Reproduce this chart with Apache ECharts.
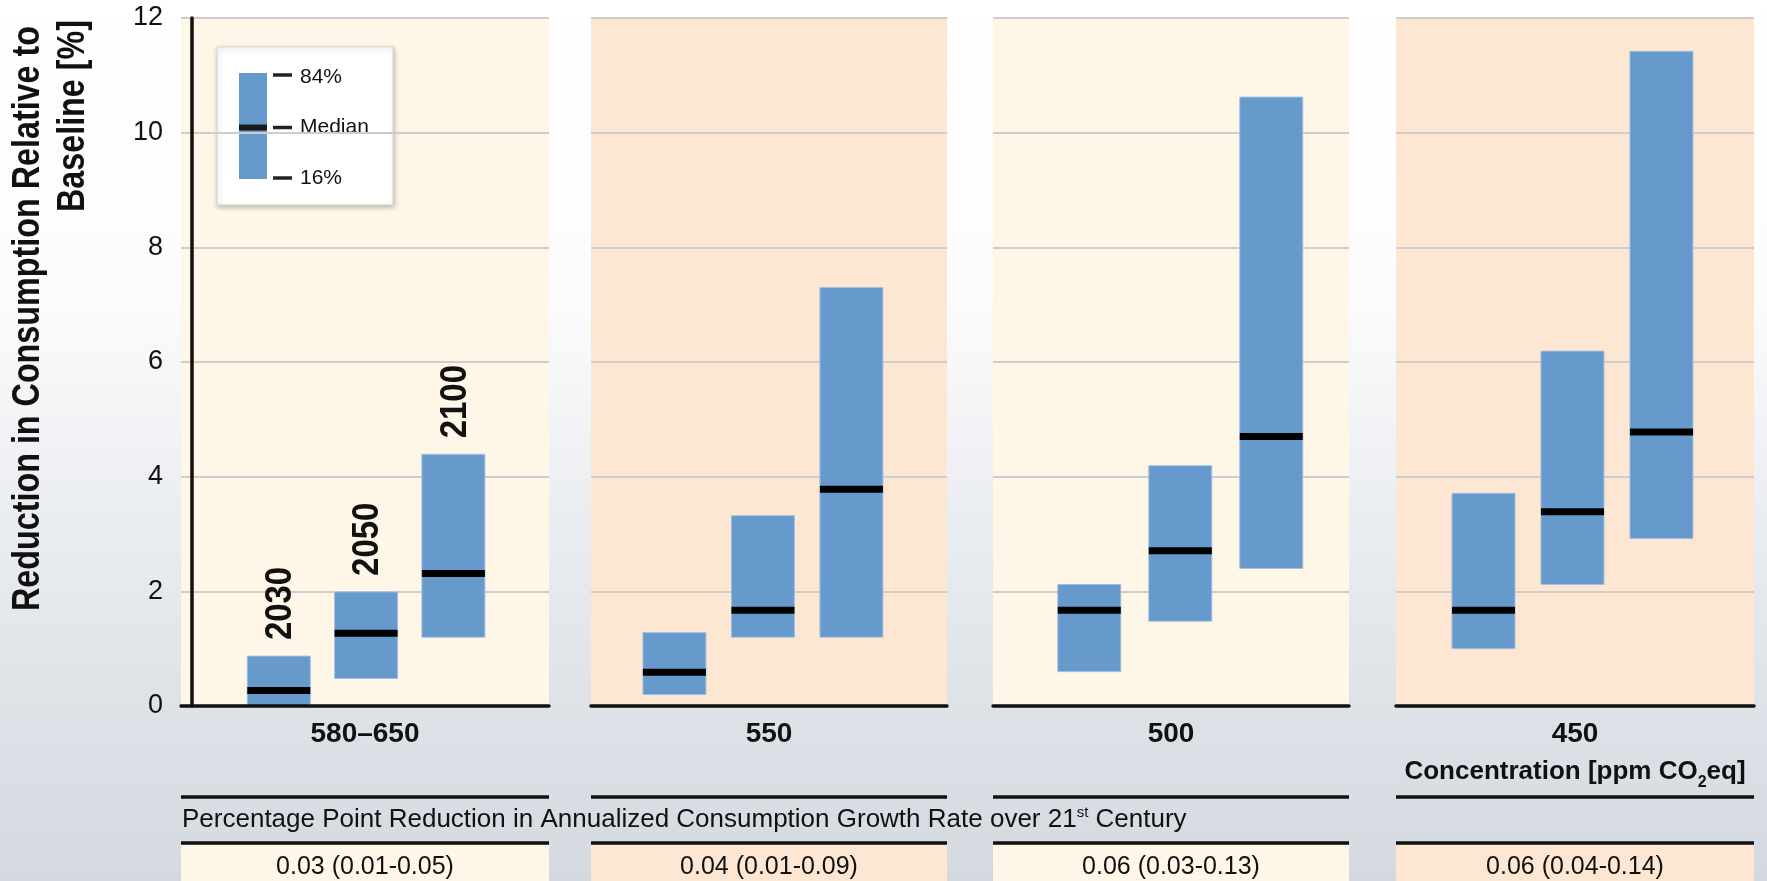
<!DOCTYPE html>
<html>
<head>
<meta charset="utf-8">
<script src="https://cdn.jsdelivr.net/npm/echarts@6/dist/echarts.min.js"></script>
<style>
  html, body { margin: 0; padding: 0; width: 1767px; height: 881px; overflow: hidden; }
  #chart { width: 1767px; height: 881px; }
</style>
</head>
<body>
<div id="chart"></div>
<script>
// Concentration categories (ppm CO2eq) and the three reporting years
const concentrations = ['580–650', '550', '500', '450'];
const years = ['2030', '2050', '2100'];

// Reduction in consumption relative to baseline [%], per category, per year
const p16 = [
  [0.0, 0.48, 1.2],
  [0.2, 1.2, 1.2],
  [0.6, 1.48, 2.4],
  [1.0, 2.12, 2.92]
];
const medians = [
  [0.27, 1.27, 2.31],
  [0.59, 1.67, 3.78],
  [1.67, 2.71, 4.7],
  [1.67, 3.39, 4.78]
];
const p84 = [
  [0.87, 1.99, 4.39],
  [1.28, 3.32, 7.3],
  [2.12, 4.19, 10.62],
  [3.71, 6.19, 11.42]
];

// Percentage point reduction in annualized consumption growth rate
const growthRates = ['0.03 (0.01-0.05)', '0.04 (0.01-0.09)', '0.06 (0.03-0.13)', '0.06 (0.04-0.14)'];

// Value axis
const yMin = 0, yMax = 12, yStep = 2;

// ---- layout & styles ----
const FONT = '"Liberation Sans", Arial, Helvetica, sans-serif';
const CREAM = '#fef6e7';
const PEACH = '#fde7d2';
const BAR_BLUE = '#6699cc';
const panels = [
  { left: 181, width: 368, xRange: [-0.12, 4.095], bg: CREAM },
  { left: 591, width: 356, xRange: [0.057, 4.08], bg: PEACH },
  { left: 993, width: 356, xRange: [-0.058, 3.854], bg: CREAM },
  { left: 1396, width: 358, xRange: [0.017, 4.04], bg: PEACH }
];
const PLOT_TOP = 18, PLOT_H = 688;
const BAR_W = 63;
const RULE1_Y = 797, RULE2_Y = 843;

const chart = echarts.init(document.getElementById('chart'), null, { renderer: 'canvas' });

const grids = [], xAxes = [], yAxes = [], series = [];

panels.forEach((p, i) => {
  grids.push({
    left: p.left, top: PLOT_TOP, width: p.width, height: PLOT_H,
    show: true, backgroundColor: p.bg, borderWidth: 0,
    outerBoundsMode: 'none'
  });

  const isLast = i === panels.length - 1;
  xAxes.push({
    gridIndex: i, type: 'value', min: p.xRange[0], max: p.xRange[1],
    z: 5,
    axisLine: { show: true, onZero: false, lineStyle: { color: '#111', width: 3.5 } },
    axisTick: { show: false }, axisLabel: { show: false }, splitLine: { show: false },
    name: isLast
      ? '{b|' + concentrations[i] + '}\n{c|Concentration [ppm CO}{sub|2}{c|eq]}'
      : '{b|' + concentrations[i] + '}',
    nameLocation: 'middle', nameGap: 9,
    nameTextStyle: {
      rich: {
        b: { fontFamily: FONT, fontWeight: 'bold', fontSize: 28, color: '#111', lineHeight: 38 },
        c: { fontFamily: FONT, fontWeight: 'bold', fontSize: 26, color: '#111', lineHeight: 38 },
        sub: { fontFamily: FONT, fontWeight: 'bold', fontSize: 16, color: '#111', lineHeight: 16, verticalAlign: 'bottom' }
      }
    }
  });

  yAxes.push({
    gridIndex: i, type: 'value', min: yMin, max: yMax, interval: yStep,
    axisLine: { show: i === 0, lineStyle: { color: '#111', width: 3.5 } },
    axisTick: { show: false },
    axisLabel: {
      show: i === 0, margin: 18, fontFamily: FONT, fontSize: 27, color: '#111'
    },
    splitLine: { show: true, lineStyle: { color: '#cdcdcd', width: 2 } }
  });

  series.push({
    type: 'custom',
    xAxisIndex: i, yAxisIndex: i,
    data: years.map((y, k) => [k + 1, p16[i][k], medians[i][k], p84[i][k]]),
    renderItem: (params, api) => {
      const x = api.value(0);
      const lo = api.coord([x, api.value(1)]);
      const med = api.coord([x, api.value(2)]);
      const hi = api.coord([x, api.value(3)]);
      const children = [
        {
          type: 'rect',
          shape: { x: lo[0] - BAR_W / 2, y: hi[1], width: BAR_W, height: lo[1] - hi[1] },
          style: { fill: BAR_BLUE, stroke: '#a3bfe0', lineWidth: 1 }
        },
        {
          type: 'rect',
          shape: { x: med[0] - BAR_W / 2, y: med[1] - 3.5, width: BAR_W, height: 7 },
          style: { fill: '#000' }
        }
      ];
      if (i === 0) {
        children.push({
          type: 'text',
          x: hi[0] + 2, y: hi[1] - 16,
          rotation: Math.PI / 2, scaleX: 0.89,
          style: {
            text: years[params.dataIndex], align: 'left', verticalAlign: 'middle',
            fontFamily: FONT, fontWeight: 'bold', fontSize: 37, fill: '#111'
          }
        });
      }
      return { type: 'group', children };
    }
  });
});

// Lower table: growth-rate rules, caption and cells
const graphics = [];
panels.forEach((p, i) => {
  graphics.push({
    type: 'line', shape: { x1: p.left, y1: RULE1_Y, x2: p.left + p.width, y2: RULE1_Y },
    style: { stroke: '#111', lineWidth: 3.5 }
  });
  graphics.push({
    type: 'line', shape: { x1: p.left, y1: RULE2_Y, x2: p.left + p.width, y2: RULE2_Y },
    style: { stroke: '#111', lineWidth: 3.5 }
  });
  graphics.push({
    type: 'rect', shape: { x: p.left, y: RULE2_Y + 2, width: p.width, height: 881 - RULE2_Y - 2 },
    style: { fill: p.bg }, z: 0
  });
  graphics.push({
    type: 'text', x: p.left + p.width / 2, y: 867,
    style: {
      text: growthRates[i], align: 'center', verticalAlign: 'middle',
      fontFamily: FONT, fontSize: 25, fill: '#111'
    }
  });
});
graphics.push({
  type: 'text', x: 182, y: 820,
  style: {
    text: '{t|Percentage Point Reduction in Annualized Consumption Growth Rate over 21}{s|st}{t| Century}',
    align: 'left', verticalAlign: 'middle',
    rich: {
      t: { fontFamily: FONT, fontSize: 26, fill: '#111', lineHeight: 30 },
      s: { fontFamily: FONT, fontSize: 15, fill: '#111', lineHeight: 15, verticalAlign: 'top' }
    }
  }
});

// Y-axis title, two rotated lines ending near the top of the plot
graphics.push({
  type: 'text', x: 29, y: 26, rotation: Math.PI / 2, scaleX: 0.85,
  style: {
    text: 'Reduction in Consumption Relative to', align: 'right', verticalAlign: 'middle',
    fontFamily: FONT, fontWeight: 'bold', fontSize: 38, fill: '#111'
  }
});
graphics.push({
  type: 'text', x: 74, y: 20, rotation: Math.PI / 2, scaleX: 0.85,
  style: {
    text: 'Baseline [%]', align: 'right', verticalAlign: 'middle',
    fontFamily: FONT, fontWeight: 'bold', fontSize: 38, fill: '#111'
  }
});

// Key box explaining the bar
graphics.push({
  type: 'group', z: 20,
  children: [
    {
      type: 'rect', shape: { x: 217, y: 47, width: 176, height: 158 },
      style: {
        fill: '#fff', stroke: '#d6d6d6', lineWidth: 1,
        shadowBlur: 5, shadowColor: 'rgba(0,0,0,0.25)', shadowOffsetX: 1, shadowOffsetY: 2
      }
    },
    { type: 'rect', shape: { x: 239, y: 73, width: 28, height: 106 }, style: { fill: BAR_BLUE } },
    { type: 'rect', shape: { x: 239, y: 124.5, width: 28, height: 6 }, style: { fill: '#1a1a1a' } },
    { type: 'line', shape: { x1: 273, y1: 75, x2: 292, y2: 75 }, style: { stroke: '#222', lineWidth: 3.5 } },
    { type: 'line', shape: { x1: 273, y1: 127.5, x2: 292, y2: 127.5 }, style: { stroke: '#222', lineWidth: 3.5 } },
    { type: 'line', shape: { x1: 273, y1: 178, x2: 292, y2: 178 }, style: { stroke: '#222', lineWidth: 3.5 } },
    { type: 'text', x: 300, y: 77, style: { text: '84%', align: 'left', verticalAlign: 'middle', fontFamily: FONT, fontSize: 21, fill: '#111' } },
    { type: 'text', x: 300, y: 127, style: { text: 'Median', align: 'left', verticalAlign: 'middle', fontFamily: FONT, fontSize: 21, fill: '#111' } },
    { type: 'text', x: 300, y: 178, style: { text: '16%', align: 'left', verticalAlign: 'middle', fontFamily: FONT, fontSize: 21, fill: '#111' } }
  ]
});

chart.setOption({
  animation: false,
  backgroundColor: {
    type: 'linear', x: 0, y: 0, x2: 0, y2: 1,
    colorStops: [
      { offset: 0, color: '#ffffff' },
      { offset: 0.33, color: '#fcfcfd' },
      { offset: 0.62, color: '#e8ebef' },
      { offset: 1, color: '#d4d9e0' }
    ]
  },
  grid: grids,
  xAxis: xAxes,
  yAxis: yAxes,
  series: series,
  graphic: graphics
});
</script>
</body>
</html>
